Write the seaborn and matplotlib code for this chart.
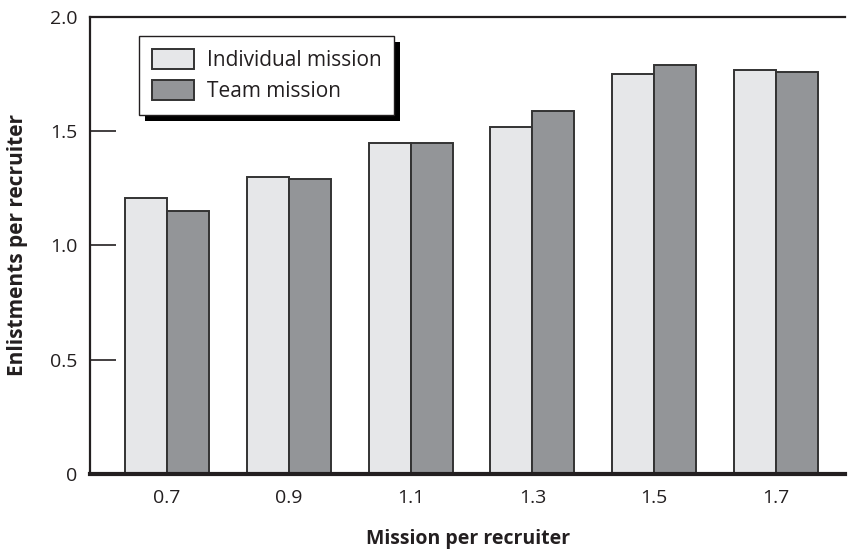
import pandas as pd
import seaborn as sns
import matplotlib.pyplot as plt
import matplotlib.patheffects as pe

# values
missions = ["0.7", "0.9", "1.1", "1.3", "1.5", "1.7"]
individual = [1.21, 1.30, 1.45, 1.52, 1.75, 1.77]
team = [1.15, 1.29, 1.45, 1.59, 1.79, 1.76]
series_names = ["Individual mission", "Team mission"]
bar_colors = ["#e6e7e9", "#939598"]

df = pd.DataFrame({
    "mission": missions * 2,
    "value": individual + team,
    "series": [series_names[0]] * len(missions) + [series_names[1]] * len(missions),
})

sns.set_style("white")
plt.rcParams["font.family"] = ["Open Sans", "DejaVu Sans"]
ink = "#231f20"
plt.rcParams["text.color"] = ink
plt.rcParams["axes.labelcolor"] = ink
plt.rcParams["xtick.labelcolor"] = ink
plt.rcParams["ytick.labelcolor"] = ink

fig = plt.figure(figsize=(8.48, 5.51), dpi=100)
ax = fig.add_axes([0.106, 0.140, 0.891, 0.829])

sns.barplot(data=df, x="mission", y="value", hue="series", palette=bar_colors,
            width=0.69, edgecolor="#333333", linewidth=1.4, saturation=1, ax=ax)

ax.set_ylim(0, 2.0)
ax.set_xlim(-0.633, 5.57)
ax.set_yticks([0, 0.5, 1.0, 1.5, 2.0])
ax.set_yticklabels(["0", "0.5", "1.0", "1.5", "2.0"])
ax.tick_params(axis="y", left=True, direction="in", length=19, width=1.2,
               color=ink, labelsize=14, pad=9)
ax.tick_params(axis="x", bottom=False, length=0, labelsize=14, pad=11)

for side in ["left", "top"]:
    ax.spines[side].set_linewidth(1.6)
    ax.spines[side].set_color(ink)
ax.spines["bottom"].set_linewidth(3)
ax.spines["bottom"].set_color(ink)
ax.spines["right"].set_visible(False)

ax.set_xlabel("Mission per recruiter", fontsize=14, fontweight="bold", labelpad=16)
ax.set_ylabel("Enlistments per recruiter", fontsize=15, fontweight="bold", labelpad=16)

leg = ax.legend(loc="upper left", bbox_to_anchor=(0.065, 0.958), borderaxespad=0,
                fontsize=15, fancybox=False, framealpha=1, edgecolor=ink,
                handlelength=2.0, handleheight=1.06, handletextpad=0.63,
                borderpad=0.62, labelspacing=0.45)
leg.get_frame().set_linewidth(1.0)
leg.get_frame().set_path_effects([
    pe.SimplePatchShadow(offset=(4, -4), shadow_rgbFace="black", alpha=1),
    pe.Normal(),
])

fig.savefig("out.png", dpi=100)
